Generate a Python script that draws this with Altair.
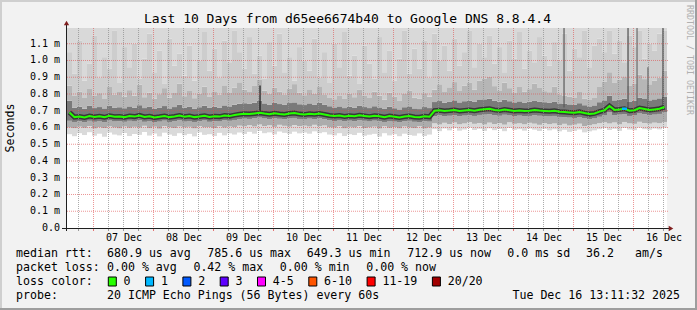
import altair as alt
import pandas as pd

FONT = "DejaVu Sans Mono"

# ---------------- data ----------------
T_START = 13.19      # 06 Dec 13:11:32 (hours after 06 Dec 00:00)
T_SPAN = 240.0       # ten days
BIN_H = 2.0
Y_TOP = 1.194        # ms

title_text = "Last 10 Days from d65ee6674b40 to Google DNS 8.8.4.4"
y_axis_title = "Seconds"
watermark = "RRDTOOL / TOBI OETIKER"

day_labels = ["07 Dec", "08 Dec", "09 Dec", "10 Dec", "11 Dec",
              "12 Dec", "13 Dec", "14 Dec", "15 Dec", "16 Dec"]
day_label_hours = [36, 60, 84, 108, 132, 156, 180, 204, 228, 252]
y_tick_values = [0.0, 0.1, 0.2, 0.3, 0.4, 0.5, 0.6, 0.7, 0.8, 0.9, 1.0, 1.1]

# median rtt (ms), 2-hour bins
median_ms = [
    0.690, 0.662, 0.665, 0.660, 0.668, 0.663, 0.667, 0.661, 0.670, 0.664, 0.666, 0.662,
    0.668, 0.665, 0.672, 0.663, 0.667, 0.660, 0.664, 0.669, 0.662, 0.666, 0.671, 0.664,
    0.668, 0.662, 0.666, 0.670, 0.663, 0.667, 0.665, 0.671, 0.668, 0.674, 0.679, 0.682,
    0.680, 0.684, 0.688, 0.683, 0.679, 0.685, 0.681, 0.678, 0.683, 0.686, 0.680, 0.677,
    0.682, 0.679, 0.684, 0.678, 0.672, 0.668, 0.671, 0.666, 0.670, 0.667, 0.673, 0.669,
    0.665, 0.670, 0.667, 0.662, 0.668, 0.664, 0.660, 0.666, 0.669, 0.663, 0.661, 0.667,
    0.664, 0.700, 0.703, 0.698, 0.701, 0.705, 0.699, 0.702, 0.704, 0.700, 0.706, 0.709,
    0.712, 0.705, 0.701, 0.707, 0.703, 0.699, 0.702, 0.698, 0.700, 0.704, 0.701, 0.699,
    0.697, 0.700, 0.694, 0.692, 0.690, 0.688, 0.693, 0.686, 0.680, 0.684, 0.695, 0.703,
    0.728, 0.705, 0.708, 0.712, 0.700, 0.703, 0.716, 0.710, 0.704, 0.708, 0.712, 0.722,
]

smoke_min = [
    0.560, 0.548, 0.566, 0.555, 0.572, 0.551, 0.563, 0.545, 0.570, 0.558, 0.553, 0.567,
    0.549, 0.561, 0.556, 0.573, 0.552, 0.564, 0.547, 0.569, 0.558, 0.550, 0.566, 0.554,
    0.562, 0.547, 0.571, 0.556, 0.560, 0.549, 0.568, 0.553, 0.565, 0.558, 0.570, 0.561,
    0.574, 0.563, 0.580, 0.566, 0.571, 0.559, 0.576, 0.568, 0.562, 0.575, 0.565, 0.570,
    0.563, 0.577, 0.566, 0.572, 0.558, 0.553, 0.566, 0.549, 0.560, 0.555, 0.568, 0.551,
    0.557, 0.562, 0.546, 0.566, 0.553, 0.560, 0.548, 0.563, 0.555, 0.551, 0.565, 0.549,
    0.558, 0.590, 0.578, 0.594, 0.583, 0.596, 0.581, 0.588, 0.599, 0.585, 0.592, 0.580,
    0.595, 0.584, 0.591, 0.578, 0.597, 0.586, 0.590, 0.581, 0.594, 0.587, 0.579, 0.592,
    0.583, 0.589, 0.577, 0.586, 0.574, 0.580, 0.588, 0.571, 0.577, 0.583, 0.590, 0.596,
    0.585, 0.592, 0.580, 0.597, 0.588, 0.584, 0.599, 0.590, 0.586, 0.594, 0.589, 0.598,
]

smoke_p10 = [
    0.600, 0.596, 0.605, 0.598, 0.609, 0.594, 0.603, 0.597, 0.607, 0.600, 0.595, 0.606,
    0.598, 0.604, 0.599, 0.610, 0.596, 0.605, 0.593, 0.608, 0.601, 0.597, 0.606, 0.600,
    0.604, 0.595, 0.609, 0.601, 0.603, 0.597, 0.607, 0.599, 0.606, 0.602, 0.611, 0.607,
    0.614, 0.606, 0.618, 0.609, 0.613, 0.604, 0.616, 0.610, 0.605, 0.615, 0.608, 0.611,
    0.606, 0.616, 0.608, 0.612, 0.602, 0.599, 0.608, 0.595, 0.604, 0.600, 0.609, 0.597,
    0.601, 0.605, 0.594, 0.607, 0.598, 0.603, 0.595, 0.606, 0.600, 0.596, 0.607, 0.594,
    0.600, 0.625, 0.618, 0.628, 0.621, 0.630, 0.619, 0.624, 0.632, 0.622, 0.627, 0.618,
    0.629, 0.621, 0.626, 0.617, 0.631, 0.622, 0.625, 0.619, 0.628, 0.623, 0.616, 0.626,
    0.620, 0.624, 0.614, 0.622, 0.612, 0.617, 0.623, 0.609, 0.613, 0.619, 0.626, 0.631,
    0.624, 0.630, 0.619, 0.633, 0.625, 0.622, 0.634, 0.627, 0.623, 0.629, 0.626, 0.633,
]

smoke_p25 = [
    0.640, 0.633, 0.638, 0.631, 0.640, 0.634, 0.639, 0.632, 0.642, 0.636, 0.637, 0.634,
    0.640, 0.636, 0.643, 0.634, 0.639, 0.631, 0.635, 0.641, 0.633, 0.637, 0.643, 0.635,
    0.639, 0.633, 0.637, 0.642, 0.634, 0.638, 0.636, 0.643, 0.640, 0.645, 0.650, 0.653,
    0.651, 0.655, 0.659, 0.654, 0.650, 0.656, 0.652, 0.649, 0.654, 0.657, 0.651, 0.648,
    0.653, 0.650, 0.655, 0.649, 0.643, 0.639, 0.642, 0.637, 0.641, 0.638, 0.644, 0.640,
    0.636, 0.641, 0.638, 0.633, 0.639, 0.635, 0.631, 0.637, 0.640, 0.634, 0.632, 0.638,
    0.635, 0.668, 0.672, 0.667, 0.670, 0.674, 0.668, 0.671, 0.673, 0.669, 0.675, 0.677,
    0.680, 0.674, 0.670, 0.676, 0.672, 0.668, 0.671, 0.667, 0.669, 0.673, 0.670, 0.668,
    0.666, 0.669, 0.663, 0.661, 0.659, 0.657, 0.662, 0.655, 0.650, 0.654, 0.664, 0.672,
    0.690, 0.674, 0.677, 0.680, 0.669, 0.672, 0.684, 0.679, 0.673, 0.677, 0.681, 0.690,
]

smoke_p75 = [
    0.760, 0.718, 0.724, 0.712, 0.729, 0.716, 0.722, 0.714, 0.731, 0.719, 0.721, 0.715,
    0.726, 0.718, 0.733, 0.716, 0.723, 0.711, 0.719, 0.728, 0.714, 0.722, 0.735, 0.717,
    0.725, 0.713, 0.721, 0.730, 0.717, 0.724, 0.719, 0.732, 0.726, 0.736, 0.742, 0.745,
    0.741, 0.748, 0.760, 0.744, 0.737, 0.749, 0.740, 0.735, 0.746, 0.750, 0.739, 0.734,
    0.744, 0.737, 0.748, 0.735, 0.727, 0.720, 0.726, 0.716, 0.724, 0.719, 0.731, 0.722,
    0.716, 0.727, 0.720, 0.711, 0.724, 0.715, 0.708, 0.721, 0.726, 0.714, 0.710, 0.722,
    0.716, 0.752, 0.758, 0.748, 0.755, 0.762, 0.750, 0.757, 0.760, 0.753, 0.764, 0.768,
    0.772, 0.760, 0.754, 0.765, 0.757, 0.750, 0.756, 0.749, 0.753, 0.761, 0.755, 0.751,
    0.749, 0.755, 0.744, 0.741, 0.738, 0.735, 0.745, 0.733, 0.726, 0.732, 0.751, 0.762,
    0.790, 0.762, 0.767, 0.772, 0.755, 0.760, 0.778, 0.770, 0.762, 0.768, 0.774, 0.785,
]

smoke_p90 = [
    0.850, 0.792, 0.815, 0.776, 0.830, 0.788, 0.805, 0.770, 0.842, 0.797, 0.812, 0.784,
    0.823, 0.790, 0.856, 0.781, 0.808, 0.772, 0.799, 0.835, 0.779, 0.810, 0.861, 0.787,
    0.818, 0.775, 0.803, 0.844, 0.782, 0.816, 0.795, 0.852, 0.806, 0.838, 0.870, 0.826,
    0.812, 0.848, 0.884, 0.820, 0.801, 0.839, 0.815, 0.798, 0.831, 0.859, 0.809, 0.793,
    0.828, 0.803, 0.846, 0.794, 0.780, 0.769, 0.792, 0.774, 0.803, 0.781, 0.827, 0.788,
    0.776, 0.814, 0.790, 0.766, 0.808, 0.783, 0.762, 0.800, 0.821, 0.779, 0.771, 0.805,
    0.784, 0.826, 0.858, 0.812, 0.840, 0.871, 0.818, 0.849, 0.866, 0.825, 0.879, 0.893,
    0.902, 0.847, 0.822, 0.868, 0.835, 0.810, 0.842, 0.815, 0.829, 0.862, 0.836, 0.817,
    0.811, 0.845, 0.798, 0.790, 0.783, 0.776, 0.812, 0.771, 0.764, 0.780, 0.842, 0.875,
    0.930, 0.866, 0.884, 0.901, 0.848, 0.860, 0.915, 0.889, 0.858, 0.879, 0.897, 0.940,
]

smoke_p95 = [
    1.05, 0.92, 1.12, 0.88, 0.98, 1.15, 0.90, 1.02, 0.95, 1.18, 0.87, 1.08,
    0.96, 1.10, 0.89, 1.01, 1.16, 0.93, 1.06, 0.86, 1.13, 0.97, 1.04, 0.91,
    1.09, 0.88, 1.00, 1.17, 0.94, 1.07, 0.90, 1.12, 0.99, 1.18, 1.05, 0.95,
    1.14, 0.92, 1.03, 0.89, 1.11, 0.97, 1.16, 0.93, 1.02, 0.88, 1.08, 1.00,
    0.94, 1.13, 0.90, 1.05, 0.87, 1.10, 0.96, 1.17, 0.91, 1.03, 0.86, 1.09,
    0.98, 0.89, 1.14, 0.93, 1.06, 0.88, 1.01, 1.18, 0.92, 1.07, 0.95, 1.12,
    0.90, 1.16, 1.00, 1.09, 0.94, 1.13, 0.97, 1.05, 1.18, 0.96, 1.10, 1.02,
    1.15, 0.98, 1.08, 0.93, 1.12, 1.01, 1.17, 0.95, 1.06, 0.99, 1.14, 1.03,
    0.97, 1.11, 1.00, 1.16, 0.94, 1.07, 1.02, 1.18, 0.96, 1.09, 1.13, 1.05,
    1.18, 1.04, 1.12, 0.99, 1.15, 1.08, 1.18, 1.01, 1.10, 1.06, 1.16, 1.18,
]

smoke_max = [
    1.25, 1.25, 1.25, 1.25, 1.25, 1.25, 1.25, 1.25, 1.25, 1.25, 1.25, 1.25,
    1.25, 1.25, 1.25, 1.25, 1.25, 1.25, 1.25, 1.25, 1.25, 1.25, 1.25, 1.25,
    1.25, 1.25, 1.25, 1.25, 1.25, 1.25, 1.25, 1.25, 1.25, 1.25, 1.25, 1.25,
    1.25, 1.25, 1.25, 1.25, 1.25, 1.25, 1.25, 1.25, 1.25, 1.25, 1.25, 1.25,
    1.25, 1.25, 1.25, 1.25, 1.25, 1.25, 1.25, 1.25, 1.25, 1.25, 1.25, 1.25,
    1.25, 1.25, 1.25, 1.25, 1.25, 1.25, 1.25, 1.25, 1.25, 1.25, 1.25, 1.25,
    1.25, 1.25, 1.25, 1.25, 1.25, 1.25, 1.25, 1.25, 1.25, 1.25, 1.25, 1.25,
    1.25, 1.25, 1.25, 1.25, 1.25, 1.25, 1.25, 1.25, 1.25, 1.25, 1.25, 1.25,
    1.25, 1.25, 1.25, 1.25, 1.25, 1.25, 1.25, 1.25, 1.25, 1.25, 1.25, 1.25,
    1.25, 1.25, 1.25, 1.25, 1.25, 1.25, 1.25, 1.25, 1.25, 1.25, 1.25, 1.25,
]

loss_count = [
    0, 0, 0, 0, 0, 0, 0, 0, 0, 0, 0, 0,
    0, 0, 0, 0, 0, 0, 0, 0, 0, 0, 0, 0,
    0, 0, 0, 0, 0, 0, 0, 0, 0, 0, 0, 0,
    0, 0, 0, 0, 0, 0, 0, 0, 0, 0, 0, 0,
    0, 0, 0, 0, 0, 0, 0, 0, 0, 0, 0, 0,
    0, 0, 0, 0, 0, 0, 0, 0, 0, 0, 0, 0,
    0, 0, 0, 0, 0, 0, 0, 0, 0, 0, 0, 0,
    0, 0, 0, 0, 0, 0, 0, 0, 0, 0, 0, 0,
    0, 0, 0, 0, 0, 0, 0, 0, 0, 0, 0, 0,
    0, 0, 0, 1, 0, 0, 0, 0, 0, 0, 0, 0,
]

# dense spikes (hour, low ms, high ms)
spike_hour = [90.4, 212.0, 237.6, 241.2, 245.6, 251.6]
spike_lo = [0.69, 0.72, 0.72, 0.72, 0.72, 0.71]
spike_hi = [0.85, 1.25, 1.25, 1.25, 0.96, 1.25]
spike_shade = ["#151515", "#5a5a5a", "#4e4e4e", "#6a6a6a", "#5a5a5a", "#444444"]

rtt_label = "median rtt:"
rtt_stats = ["680.9 us avg", "785.6 us max", "649.3 us min", "712.9 us now",
             "0.0 ms sd", "36.2", "am/s"]
loss_label = "packet loss:"
loss_stats = ["0.00 % avg", "0.42 % max", "0.00 % min", "0.00 % now"]
color_label = "loss color:"
loss_labels = ["0", "1", "2", "3", "4-5", "6-10", "11-19", "20/20"]
loss_colors = ["#26ff00", "#00b8ff", "#0059ff", "#5e00ff",
               "#ff00ff", "#ff5500", "#ff0000", "#a10000"]
probe_label = "probe:"
probe_text = "20 ICMP Echo Pings (56 Bytes) every 60s"
stamp_text = "Tue Dec 16 13:11:32 2025"

# ---------------- layout (pixels, relative to plot origin at 67,28) ----------------
W, H = 600, 200
PL, PT = 67, 28
rtt_x = [107, 207.3, 306.7, 407.3, 507.3, 586, 635]
loss_x = [107, 193.4, 279.8, 366.2]
row_y = [254, 268, 282, 296]

# ---------------- frames ----------------
n = len(median_ms)
bins = pd.DataFrame({
    "t0": [T_START + BIN_H * i for i in range(n)],
    "t1": [T_START + BIN_H * (i + 1) for i in range(n)],
    "tm": [T_START + BIN_H * (i + 0.5) for i in range(n)],
    "median": median_ms,
    "loss": loss_count,
})

band_series = [smoke_min, smoke_p10, smoke_p25, smoke_p75, smoke_p90, smoke_p95, smoke_max]
band_keys = ["a", "b", "c", "d", "e", "f"]
band_colors = ["#dadada", "#acacac", "#7a7a7a", "#b6b6b6", "#cdcdcd", "#d9d9d9"]
band_rows = []
for k, key in enumerate(band_keys):
    lo, hi = band_series[k], band_series[k + 1]
    for i in range(n):
        band_rows.append({"t0": bins.t0[i], "t1": bins.t1[i], "lo": lo[i], "hi": hi[i], "band": key})
bands = pd.DataFrame(band_rows)

xs = alt.Scale(domain=[T_START, T_START + T_SPAN], nice=False, zero=False)
ys = alt.Scale(domain=[0, Y_TOP], nice=False, zero=False)


def X(f):
    return alt.X(f, type="quantitative", scale=xs, axis=None)


def Y(f):
    return alt.Y(f, type="quantitative", scale=ys, axis=None)


one = pd.DataFrame({"k": [0]})
layers = []

# smoke
layers.append(alt.Chart(bands).mark_rect(clip=True, strokeWidth=0).encode(
    x=X("t0"), x2="t1", y=Y("lo"), y2="hi",
    color=alt.Color("band:N", scale=alt.Scale(domain=band_keys, range=band_colors), legend=None)))

spikes = pd.DataFrame({"t": spike_hour, "lo": spike_lo, "hi": spike_hi, "c": spike_shade})
layers.append(alt.Chart(spikes).mark_rule(clip=True, strokeWidth=1.2).encode(
    x=X("t"), y=Y("lo"), y2="hi", color=alt.Color("c:N", scale=None)))

# dark core around the median
layers.append(alt.Chart(bins).mark_line(clip=True, color="#383838", strokeWidth=5).encode(
    x=X("tm"), y=Y("median")))

# grid
minor_hours = [h for h in range(18, 253, 6) if h % 24 != 0]
major_hours = [h for h in range(24, 241, 24)]
layers.append(alt.Chart(pd.DataFrame({"t": minor_hours})).mark_rule(
    color="rgba(143,143,143,0.75)", strokeDash=[1, 1], strokeWidth=1, xOffset=-0.5).encode(
    x=X("t"), y=alt.value(0), y2=alt.value(H)))
layers.append(alt.Chart(pd.DataFrame({"t": major_hours})).mark_rule(
    color="rgba(222,79,79,0.6)", strokeDash=[1, 1], strokeWidth=1, xOffset=-0.5).encode(
    x=X("t"), y=alt.value(0), y2=alt.value(H)))
layers.append(alt.Chart(pd.DataFrame({"v": y_tick_values[1:]})).mark_rule(
    color="rgba(222,79,79,0.6)", strokeDash=[1, 1], strokeWidth=1).encode(
    y=Y("v"), x=alt.value(0), x2=alt.value(W + 2)))

# median line
layers.append(alt.Chart(bins).mark_line(clip=True, color=loss_colors[0], strokeWidth=2).encode(
    x=X("tm"), y=Y("median")))
lossy = bins[bins.loss > 0].copy()
lossy["col"] = [loss_colors[int(v)] for v in lossy.loss]
layers.append(alt.Chart(lossy).mark_rule(strokeWidth=2.5).encode(
    x=X("t0"), x2="t1", y=Y("median"), color=alt.Color("col:N", scale=None)))

# axis ticks below x axis
layers.append(alt.Chart(pd.DataFrame({"t": minor_hours})).mark_rule(
    color="rgba(143,143,143,0.9)", xOffset=-0.5).encode(x=X("t"), y=alt.value(H), y2=alt.value(H + 3)))
layers.append(alt.Chart(pd.DataFrame({"t": major_hours})).mark_rule(
    color="rgba(222,79,79,0.8)", xOffset=-0.5).encode(x=X("t"), y=alt.value(H), y2=alt.value(H + 3)))

# axes
layers.append(alt.Chart(one).mark_rule(color="#1f1f1f").encode(
    x=alt.value(-0.5), y=alt.value(-4), y2=alt.value(H + 3)))
layers.append(alt.Chart(one).mark_rule(color="#1f1f1f").encode(
    x=alt.value(-5), x2=alt.value(W + 2), y=alt.value(H + 0.5)))
layers.append(alt.Chart(one).mark_point(shape="triangle-up", filled=True, color="#801f1f", size=28, opacity=1).encode(
    x=alt.value(-0.5), y=alt.value(-5)))
layers.append(alt.Chart(one).mark_point(shape="triangle-right", filled=True, color="#801f1f", size=28, opacity=1).encode(
    x=alt.value(W + 4), y=alt.value(H + 0.5)))

# y tick labels
ylab = pd.DataFrame({"v": y_tick_values,
                     "lab": [("0.0\u00a0\u00a0" if v == 0 else f"{v:.1f} m") for v in y_tick_values]})
layers.append(alt.Chart(ylab).mark_text(font=FONT, fontSize=10, align="right", baseline="middle", color="#000").encode(
    y=Y("v"), x=alt.value(-7), text="lab:N"))

# x tick labels
xlab = pd.DataFrame({"t": day_label_hours, "lab": day_labels})
layers.append(alt.Chart(xlab).mark_text(font=FONT, fontSize=10, align="center", baseline="middle", color="#000").encode(
    x=X("t"), y=alt.value(238 - PT), text="lab:N"))


def texts(items, size, angle=0, color="#000000", align="left"):
    df = pd.DataFrame([{"text": t, "px": x - PL, "py": y - PT} for t, x, y in items])
    return alt.Chart(df).mark_text(font=FONT, fontSize=size, align=align, baseline="middle",
                                   angle=angle, color=color).encode(
        x=alt.X("px:Q", scale=None, axis=None), y=alt.Y("py:Q", scale=None, axis=None), text="text:N")


layers.append(texts([(title_text, 347.5, 19)], 13, align="center"))
layers.append(texts([(y_axis_title, 11, 128)], 11.6, angle=270, align="center"))
layers.append(texts([(watermark, 689, 60)], 8.3, angle=90, color="#b0b0b0", align="center"))

legend_items = [(rtt_label, 16, row_y[0])]
legend_items += [(t, x, row_y[0]) for t, x in zip(rtt_stats, rtt_x)]
legend_items += [(loss_label, 16, row_y[1])]
legend_items += [(t, x, row_y[1]) for t, x in zip(loss_stats, loss_x)]
legend_items += [(color_label, 16, row_y[2]), (probe_label, 16, row_y[3]), (probe_text, 107, row_y[3])]
box_x = []
bx = 108.3
for lab in loss_labels:
    box_x.append(bx)
    legend_items.append((lab, bx + 15.3, row_y[2]))
    bx += 30.3 + 7.0 * len(lab)
layers.append(texts(legend_items, 11.6))
layers.append(texts([(stamp_text, 680, row_y[3])], 11.6, align="right"))

boxes = pd.DataFrame({"px": [b - PL for b in box_x], "px2": [b - PL + 8 for b in box_x],
                      "py": [277 - PT] * len(box_x), "py2": [286 - PT] * len(box_x), "col": loss_colors})
layers.append(alt.Chart(boxes).mark_rect(stroke="#000000", strokeWidth=1).encode(
    x=alt.X("px:Q", scale=None, axis=None), x2="px2", y=alt.Y("py:Q", scale=None, axis=None), y2="py2",
    color=alt.Color("col:N", scale=None)))

# 3D border
for (x0, x1, y0, y1, c) in [(0, 697, 0, 2, "#cfcfcf"), (0, 2, 0, 310, "#cfcfcf"),
                            (695, 697, 0, 310, "#9e9e9e"), (0, 697, 308, 310, "#9e9e9e")]:
    layers.append(alt.Chart(one).mark_rect(color=c).encode(
        x=alt.value(x0 - PL), x2=alt.value(x1 - PL), y=alt.value(y0 - PT), y2=alt.value(y1 - PT)))

chart = alt.layer(*layers).properties(
    width=W, height=H,
    padding={"left": PL, "top": PT, "right": 697 - PL - W, "bottom": 310 - PT - H},
    autosize=alt.AutoSizeParams(type="none"),
    background="#f2f2f2",
).resolve_scale(x="independent", y="independent", color="independent").configure_view(
    strokeWidth=0, fill="white")

chart.save("out.html", embed_options={"renderer": "svg", "actions": False})
